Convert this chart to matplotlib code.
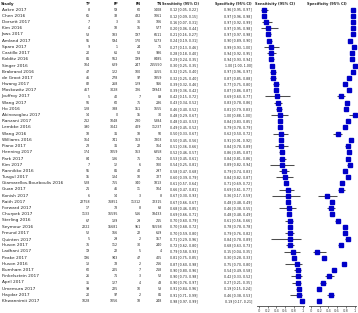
import matplotlib
matplotlib.use("Agg")
import matplotlib.pyplot as plt
import numpy as np

# study table
studies = ["Aakre 2017", "Chen 2016", "Dorsett 2017", "Kim 2016", "Jaws 2017", "Amland 2017",
           "Sparo 2017", "Castillo 2017", "Kolditz 2016", "Singer 2016", "Brabrand 2016",
           "de Groot 2017", "Hwang 2017", "Moskowitz 2017", "Jouffroy 2017", "Wang 2017",
           "Ho 2016", "Akinosoglou 2017", "Ranzani 2017", "Lembke 2016", "Wang 2016",
           "Williams 2016", "Piano 2017", "Henning 2017", "Park 2017", "Kim 2017",
           "Rannikko 2016", "Tusgul 2017", "Giamarellos-Bourboulis 2016", "Guan 2017",
           "Konish 2017", "Raith 2017", "Forward 2017", "Churpek 2017", "Sterling 2016",
           "Seymour 2016", "Freund 2017", "Quinten 2017", "Huson 2017", "Ladhani 2017",
           "Peake 2017", "Huson 2016", "Burnham 2017", "Finkelsztein 2017", "April 2017",
           "Umemura 2017", "Haydar 2017", "Khwannimit 2017"]
tp = [8, 65, 7, 4, 53, 55, 9, 20, 81, 104, 47, 46, 82, 467, 5, 56, 128, 14, 212, 390, 18, 164,
      23, 174, 84, 7, 55, 15, 528, 21, 6, 22758, 17, 1133, 67, 2222, 52, 5, 76, 19, 196, 13,
      60, 26, 35, 99, 20, 1028]
fp = [59, 33, 3, 18, 183, 594, 1, 61, 562, 629, 122, 278, 268, 3028, 40, 60, 388, 0, 1048,
      3042, 31, 741, 31, 1059, 136, 12, 81, 134, 755, 46, 14, 76851, 73, 16595, 139, 15681,
      166, 29, 112, 22, 943, 78, 205, 71, 127, 225, 97, 1056]
fn = [60, 482, 36, 16, 197, 170, 24, 52, 199, 247, 100, 97, 129, 726, 7, 75, 151, 15, 230,
      409, 18, 163, 22, 163, 75, 6, 40, 10, 340, 11, 3, 11312, 8, 516, 29, 951, 22, 2, 30, 5,
      47, 2, 7, 3, 4, 10, 2, 18]
tn = [1408, 1061, 106, 577, 6611, 5173, 75, 936, 8485, 215550, 3555, 1859, 916, 19943, 89,
      286, 1655, 30, 5384, 11237, 50, 7803, 164, 6358, 714, 100, 297, 727, 1813, 104, 8,
      72315, 63, 18433, 215, 55598, 619, 157, 240, 4, 405, 216, 218, 52, 48, 53, 81, 248]

sens = [0.12, 0.12, 0.16, 0.20, 0.21, 0.24, 0.27, 0.28, 0.29, 0.30, 0.32, 0.32, 0.39, 0.39,
        0.42, 0.43, 0.46, 0.48, 0.48, 0.49, 0.50, 0.50, 0.51, 0.52, 0.53, 0.54, 0.58, 0.60,
        0.61, 0.66, 0.67, 0.67, 0.68, 0.69, 0.70, 0.70, 0.70, 0.71, 0.72, 0.79, 0.81, 0.87,
        0.90, 0.90, 0.90, 0.91, 0.91, 0.98]
sens_lo = [0.05, 0.09, 0.07, 0.06, 0.16, 0.19, 0.13, 0.18, 0.24, 0.25, 0.25, 0.25, 0.32, 0.36,
           0.15, 0.34, 0.40, 0.29, 0.43, 0.45, 0.33, 0.45, 0.36, 0.46, 0.45, 0.25, 0.47, 0.39,
           0.57, 0.47, 0.30, 0.66, 0.46, 0.66, 0.60, 0.68, 0.59, 0.29, 0.62, 0.58, 0.75, 0.60,
           0.80, 0.73, 0.76, 0.84, 0.71, 0.97]
sens_hi = [0.22, 0.15, 0.31, 0.44, 0.27, 0.31, 0.46, 0.40, 0.35, 0.35, 0.40, 0.40, 0.46, 0.42,
           0.72, 0.52, 0.52, 0.67, 0.53, 0.52, 0.67, 0.56, 0.66, 0.57, 0.61, 0.81, 0.68, 0.79,
           0.64, 0.81, 0.93, 0.67, 0.85, 0.71, 0.79, 0.72, 0.80, 0.96, 0.80, 0.93, 0.85, 0.98,
           0.96, 0.98, 0.97, 0.96, 0.99, 0.99]
spec = [0.96, 0.97, 0.97, 0.97, 0.97, 0.90, 0.99, 0.94, 0.94, 1.00, 0.97, 0.87, 0.77, 0.87,
        0.69, 0.83, 0.81, 1.00, 0.84, 0.79, 0.62, 0.91, 0.84, 0.86, 0.84, 0.89, 0.79, 0.84,
        0.71, 0.69, 0.36, 0.48, 0.46, 0.48, 0.61, 0.78, 0.79, 0.84, 0.68, 0.15, 0.30, 0.75,
        0.54, 0.42, 0.27, 0.19, 0.46, 0.19]
spec_lo = [0.95, 0.96, 0.92, 0.95, 0.97, 0.89, 0.93, 0.92, 0.93, 1.00, 0.96, 0.85, 0.75, 0.86,
           0.60, 0.78, 0.79, 0.88, 0.83, 0.78, 0.50, 0.91, 0.78, 0.85, 0.81, 0.82, 0.74, 0.82,
           0.69, 0.61, 0.17, 0.48, 0.38, 0.48, 0.56, 0.78, 0.76, 0.78, 0.63, 0.04, 0.28, 0.70,
           0.49, 0.33, 0.21, 0.15, 0.38, 0.17]
spec_hi = [0.97, 0.98, 0.99, 0.98, 0.98, 0.90, 1.00, 0.95, 0.94, 1.00, 0.97, 0.88, 0.80, 0.87,
           0.77, 0.86, 0.83, 1.00, 0.85, 0.79, 0.72, 0.92, 0.89, 0.87, 0.86, 0.94, 0.83, 0.87,
           0.72, 0.77, 0.59, 0.49, 0.55, 0.49, 0.66, 0.78, 0.82, 0.89, 0.73, 0.35, 0.33, 0.80,
           0.58, 0.52, 0.35, 0.24, 0.53, 0.21]

ticks = [0, 0.2, 0.4, 0.6, 0.8, 1]
tick_labels = ["0", "0.2", "0.4", "0.6", "0.8", "1"]

W, H = 358, 313
fig = plt.figure(figsize=(W / 100, H / 100), dpi=100)

# text layer in pixel coordinates (y down)
tx = fig.add_axes([0, 0, 1, 1])
tx.set_xlim(0, W)
tx.set_ylim(H, 0)
tx.axis("off")

fs_name = 3.1
fs_num = 2.35
fs_head = 2.4
tcol = "#222222"
y0, dy = 9.7, 6.2
head_y = 4

def row_y(i):
    return y0 + dy * i

tx.text(1, head_y, "Study", fontsize=3.0, fontweight="bold", va="center", color=tcol)
for lab, xr in [("TP", 91), ("FP", 118), ("FN", 141), ("TN", 162)]:
    tx.text(xr, head_y, lab, fontsize=fs_head, fontweight="bold", va="center", ha="right",
            color=tcol)
tx.text(199, head_y, "Sensitivity (95% CI)", fontsize=fs_head, fontweight="bold",
        va="center", ha="right", color=tcol)
tx.text(252, head_y, "Specificity (95% CI)", fontsize=fs_head, fontweight="bold",
        va="center", ha="right", color=tcol)
tx.text(255, head_y, "Sensitivity (95% CI)", fontsize=2.6, fontweight="bold", va="center",
        ha="left", color=tcol)
tx.text(307, head_y, "Specificity (95% CI)", fontsize=2.6, fontweight="bold", va="center",
        ha="left", color=tcol)

for i, name in enumerate(studies):
    y = row_y(i)
    tx.text(1.5, y, name, fontsize=fs_name, va="center", color=tcol)
    for vals, xr in [(tp, 90), (fp, 118), (fn, 141), (tn, 162)]:
        tx.text(xr, y, str(vals[i]), fontsize=fs_num, va="center", ha="right", color=tcol)
    tx.text(198, y, f"{sens[i]:.2f} [{sens_lo[i]:.2f}, {sens_hi[i]:.2f}]", fontsize=fs_num,
            va="center", ha="right", color=tcol)
    tx.text(252, y, f"{spec[i]:.2f} [{spec_lo[i]:.2f}, {spec_hi[i]:.2f}]", fontsize=fs_num,
            va="center", ha="right", color=tcol)

# forest panels
axis_px = 306
n = len(studies)
for left, est, lo, hi in [(257, sens, sens_lo, sens_hi), (309, spec, spec_lo, spec_hi)]:
    ax = fig.add_axes([left / W, (H - axis_px) / H, 47 / W, axis_px / H])
    yy = np.arange(n)
    ax.hlines(yy, lo, hi, color="#4d4d4d", lw=0.75, clip_on=False)
    ax.plot(est, yy, "s", color="#0000c8", ms=2.3, mec="#0000c8", clip_on=False)
    ax.set_xlim(-0.04, 1.03)
    ax.set_ylim((axis_px - y0) / dy, -y0 / dy)
    for s in ["top", "right", "left"]:
        ax.spines[s].set_visible(False)
    ax.spines["bottom"].set_linewidth(0.6)
    ax.spines["bottom"].set_color("#444444")
    ax.set_yticks([])
    ax.set_xticks(ticks)
    ax.set_xticklabels(tick_labels)
    ax.tick_params(axis="x", labelsize=2.6, length=1.5, width=0.5, pad=0.6,
                   colors="#444444")
    ax.patch.set_visible(False)

fig.savefig("out.png", dpi=100)
